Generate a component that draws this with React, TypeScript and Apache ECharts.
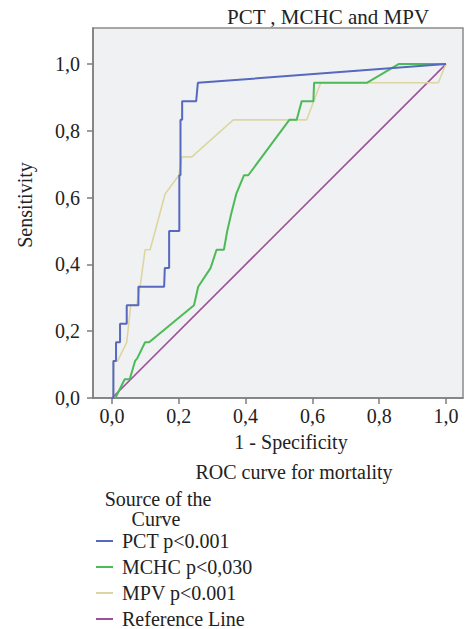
import React, { useEffect, useRef } from "react";
import * as echarts from "echarts";

const tickValues = [0, 0.2, 0.4, 0.6, 0.8, 1.0];

const seriesNames = ["PCT p<0.001", "MCHC p<0,030", "MPV p<0.001", "Reference Line"];
const seriesColors = ["#5668bf", "#4cbb57", "#ddd6a2", "#9d4f98"];
const seriesWidths = [2, 2, 1.6, 1.6];

const pct: [number, number][] = [
  [0, 0], [0.004, 0], [0.004, 0.111], [0.012, 0.111], [0.012, 0.167], [0.024, 0.167],
  [0.024, 0.222], [0.044, 0.222], [0.044, 0.278], [0.079, 0.278], [0.079, 0.333],
  [0.156, 0.333], [0.158, 0.389], [0.171, 0.389], [0.171, 0.5], [0.2015, 0.5],
  [0.2015, 0.667], [0.205, 0.667], [0.205, 0.833], [0.21, 0.833], [0.21, 0.889],
  [0.252, 0.889], [0.257, 0.944], [1, 1],
];

const mchc: [number, number][] = [
  [0.01, 0], [0.038, 0.056], [0.053, 0.056], [0.069, 0.111], [0.075, 0.118],
  [0.099, 0.167], [0.111, 0.167], [0.2455, 0.278], [0.258, 0.333], [0.295, 0.389],
  [0.313, 0.444], [0.335, 0.444], [0.345, 0.5], [0.358, 0.556], [0.372, 0.611],
  [0.395, 0.667], [0.408, 0.667], [0.531, 0.833], [0.553, 0.833], [0.568, 0.889],
  [0.603, 0.889], [0.605, 0.944], [0.763, 0.944], [0.858, 1], [1, 1],
];

const mpv: [number, number][] = [
  [0, 0], [0.004, 0], [0.005, 0.111], [0.017, 0.111], [0.044, 0.167], [0.05, 0.222],
  [0.056, 0.278], [0.074, 0.278], [0.084, 0.333], [0.099, 0.444], [0.114, 0.444],
  [0.159, 0.611], [0.2, 0.667], [0.209, 0.722], [0.239, 0.722], [0.363, 0.833],
  [0.583, 0.833], [0.625, 0.944], [0.977, 0.944], [1, 1],
];

const reference: [number, number][] = [
  [0, 0], [1, 1],
];

const seriesData = [pct, mchc, mpv, reference];

const FONT = "'Liberation Serif', 'Times New Roman', serif";
const TEXT = "#222222";

const fmt = (v: number) => v.toFixed(1).replace(".", ",");

export default function App() {
  const ref = useRef<HTMLDivElement>(null);
  useEffect(() => {
    if (!ref.current) return;
    const chart = echarts.init(ref.current, null, { renderer: "svg" });
    const axisCommon = {
      type: "value" as const,
      axisLine: { show: true, onZero: false, lineStyle: { color: "#7c7c7c", width: 1.5 } },
      axisTick: { show: true, length: 6, customValues: tickValues, lineStyle: { color: "#7c7c7c", width: 1.5 } },
      splitLine: { show: false },
      axisLabel: {
        customValues: tickValues,
        formatter: fmt,
        fontSize: 20,
        fontFamily: FONT,
        color: TEXT,
      },
    };
    const txt = (text: string, x: number, y: number, size = 20, extra: any = {}) => ({
      type: "text",
      x,
      y,
      ...extra,
      style: { text, font: `${size}px ${FONT}`, fill: TEXT, textAlign: "center", textVerticalAlign: "middle" },
    });
    chart.setOption({
      animation: false,
      backgroundColor: "#ffffff",
      grid: {
        left: 93,
        top: 28,
        width: 370,
        height: 370,
        show: true,
        backgroundColor: "#f0f1f3",
        borderColor: "#8c8c8c",
        borderWidth: 1.5,
      },
      xAxis: {
        ...axisCommon,
        min: -0.057,
        max: 1.051,
        axisLabel: { ...axisCommon.axisLabel, margin: 8 },
      },
      yAxis: {
        ...axisCommon,
        min: 0,
        max: 1.108,
        axisLabel: { ...axisCommon.axisLabel, margin: 13 },
      },
      legend: {
        data: seriesNames,
        orient: "vertical",
        left: 96,
        top: 531,
        height: 120,
        padding: 0,
        icon: "rect",
        itemWidth: 17,
        itemHeight: 2,
        itemGap: 6,
        textStyle: { fontSize: 20, fontFamily: FONT, color: TEXT, lineHeight: 16, padding: [0, 0, 0, 4] },
      },
      graphic: [
        {
          type: "text",
          x: 328,
          y: 27,
          style: { text: "PCT , MCHC and MPV", font: `21px ${FONT}`, fill: TEXT, textAlign: "center", textVerticalAlign: "bottom" },
        },
        txt("1 - Specificity", 291, 442),
        txt("ROC curve for mortality", 294, 472),
        txt("Sensitivity", 25, 205, 20, { rotation: Math.PI / 2 }),
        txt("Source of the", 158, 499),
        txt("Curve", 156, 519),
      ],
      series: seriesData.map((d, i) => ({
        name: seriesNames[i],
        type: "line",
        data: d,
        showSymbol: false,
        symbol: "none",
        lineStyle: { color: seriesColors[i], width: seriesWidths[i] },
        itemStyle: { color: seriesColors[i] },
        z: i === 3 ? 1 : 2 + (3 - i),
      })),
    });
    return () => chart.dispose();
  }, []);
  return (
    <div
      ref={ref}
      style={{ position: "absolute", left: 0, top: 0, width: 466, height: 629 }}
    />
  );
}
